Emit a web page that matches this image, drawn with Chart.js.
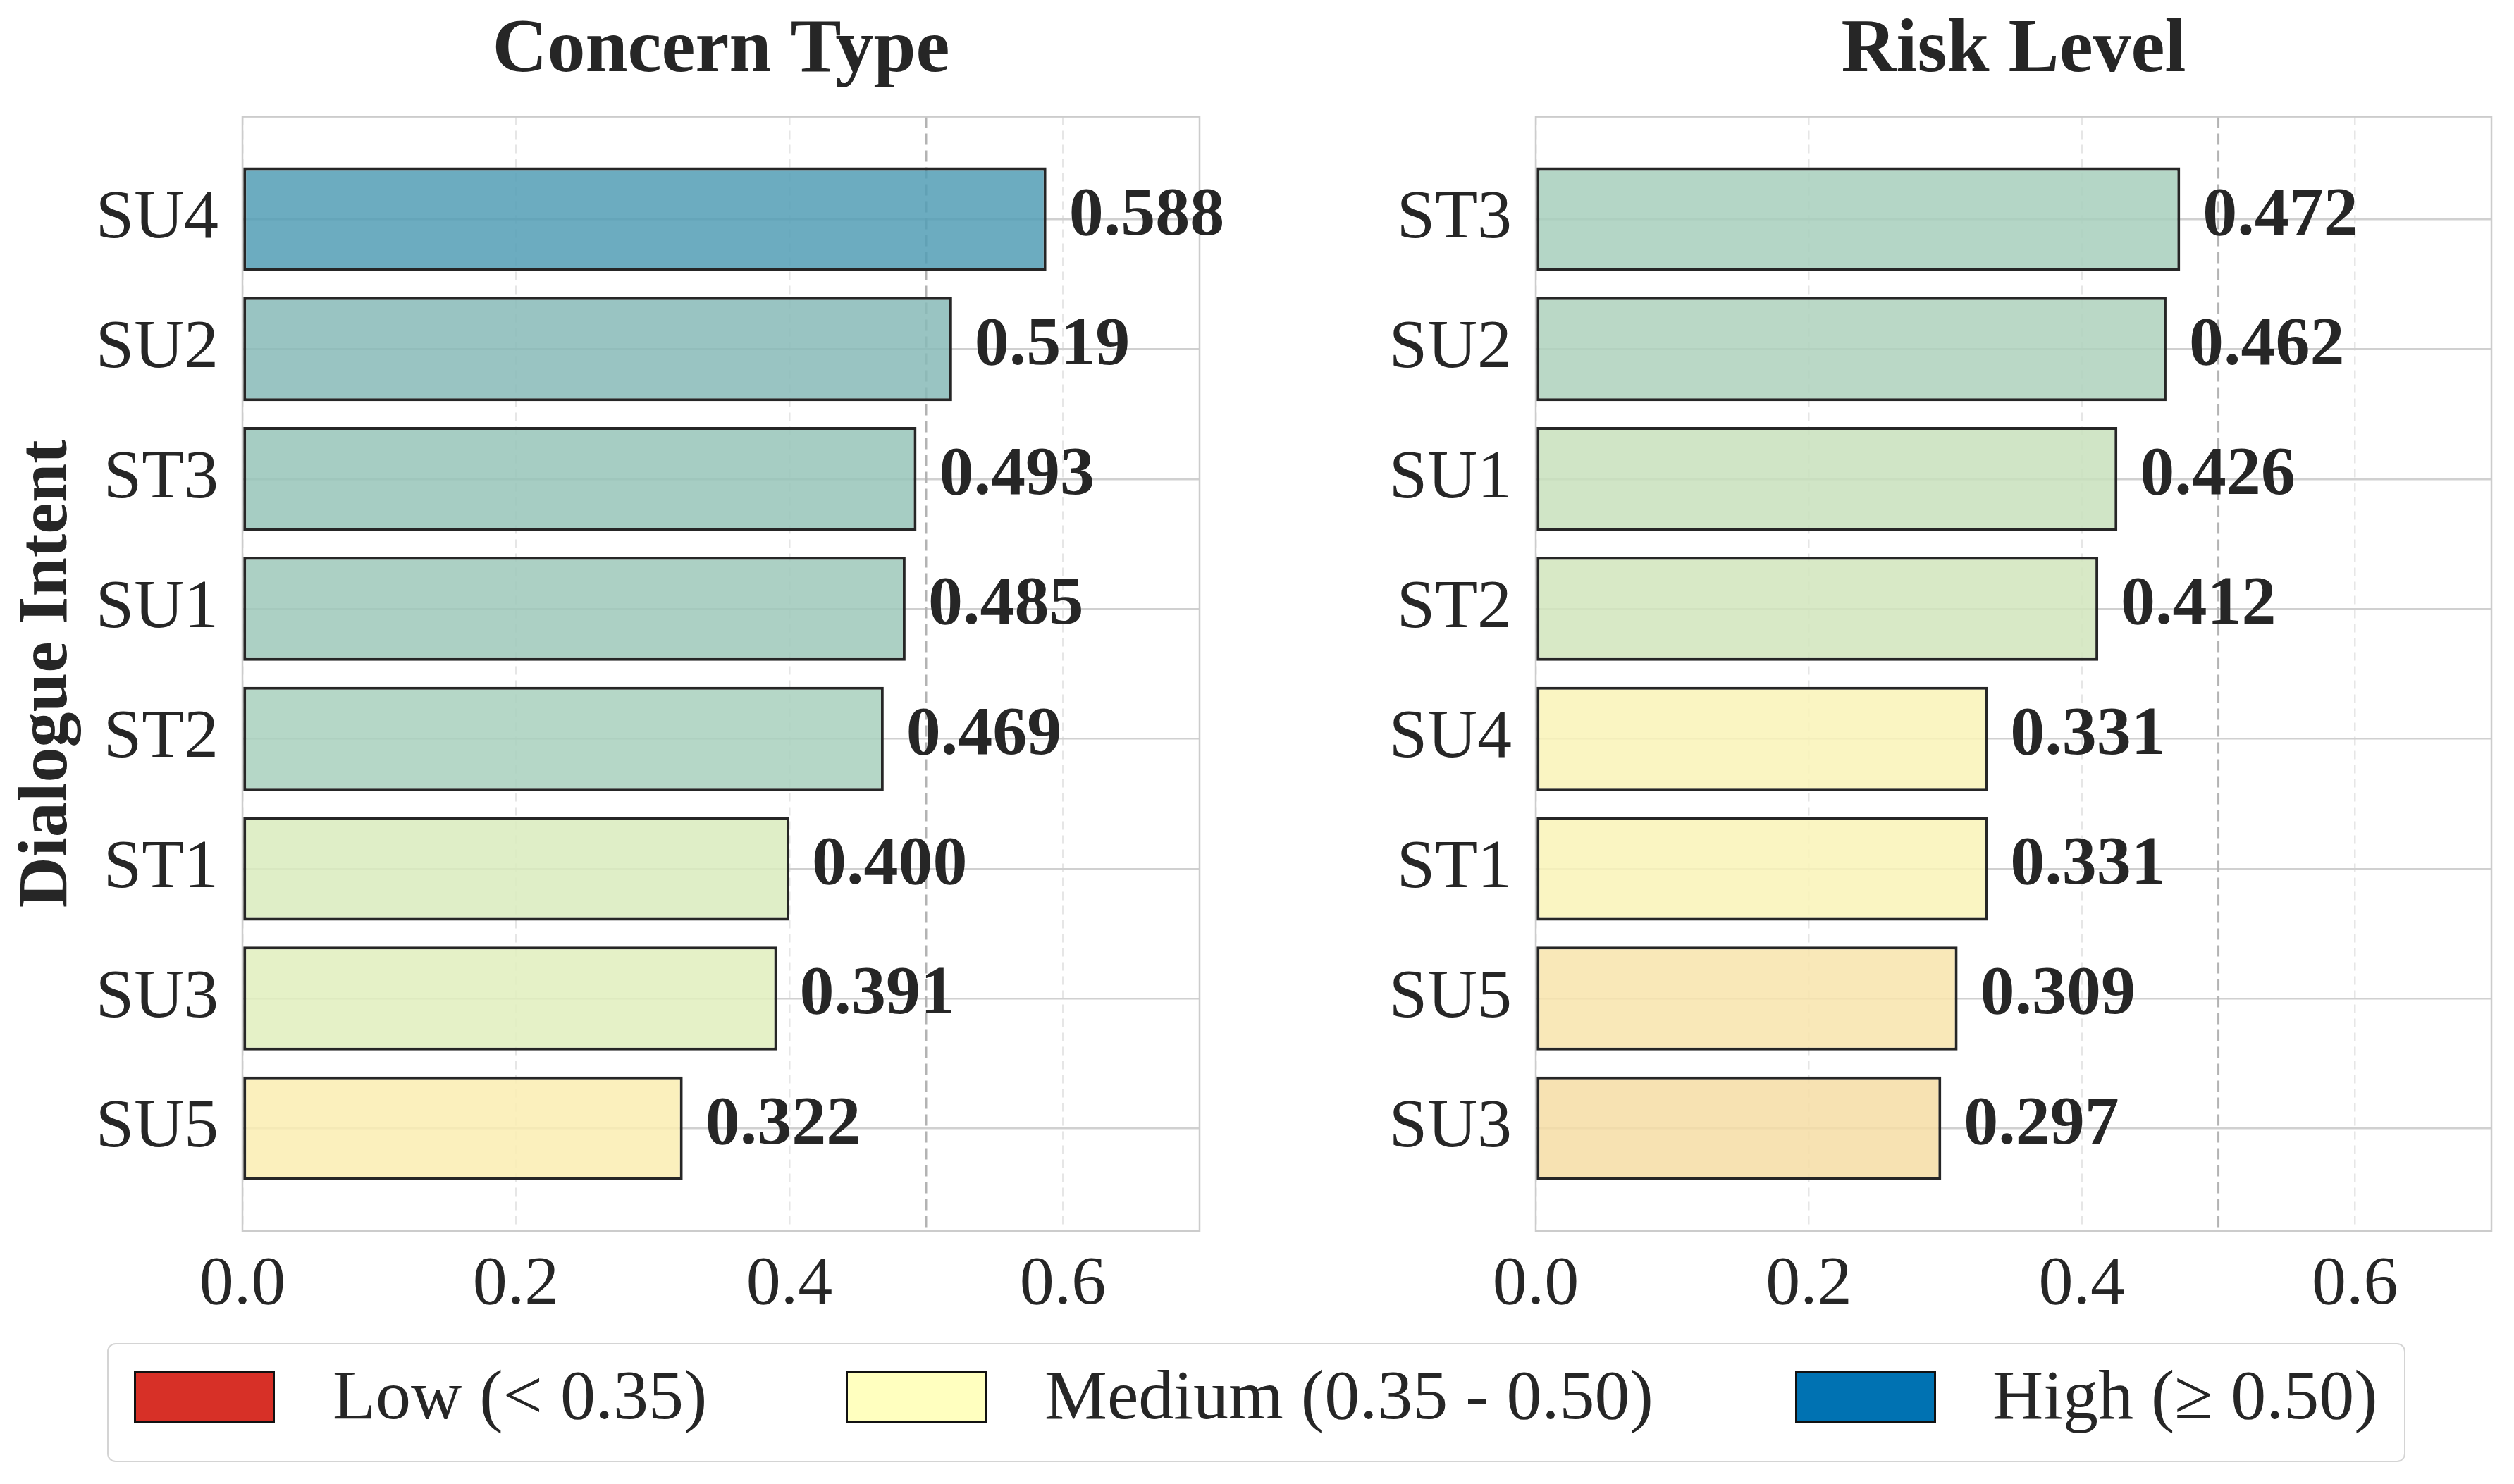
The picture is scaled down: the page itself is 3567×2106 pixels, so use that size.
<!DOCTYPE html>
<html>
<head>
<meta charset="utf-8">
<script src="https://cdn.jsdelivr.net/npm/chart.js@4.4.0/dist/chart.umd.min.js"></script>
<style>
  body { margin: 0; background: #fff; }
  #wrap { position: relative; width: 3567px; height: 2106px; }
  canvas { position: absolute; top: 0; }
  #left { left: 0; }
  #right { left: 1783px; }
  .legend { position: absolute; left: 152px; top: 1906px; width: 3257px; height: 165px;
            border: 2.5px solid #d4d4d4; border-radius: 12px;
            font-family: "Liberation Serif", serif; font-size: 100px; color: #262626; }
  .sw { position: absolute; top: 37px; width: 194px; height: 69px; border: 3px solid #111; }
  .lbl { position: absolute; top: 12px; line-height: 120px; white-space: nowrap; }
</style>
</head>
<body>
<div id="wrap">
  <canvas id="left" width="1783" height="1900"></canvas>
  <canvas id="right" width="1784" height="1900"></canvas>
  <div class="legend" id="legend"></div>
</div>
<script>
// data
const concernLabels = ['SU4', 'SU2', 'ST3', 'SU1', 'ST2', 'ST1', 'SU3', 'SU5'];
const concernValues = [0.588, 0.519, 0.493, 0.485, 0.469, 0.400, 0.391, 0.322];
const riskLabels = ['ST3', 'SU2', 'SU1', 'ST2', 'SU4', 'ST1', 'SU5', 'SU3'];
const riskValues = [0.472, 0.462, 0.426, 0.412, 0.331, 0.331, 0.309, 0.297];
const xTicks = [0.0, 0.2, 0.4, 0.6];
const legendLabels = ['Low (< 0.35)', 'Medium (0.35 - 0.50)', 'High (≥ 0.50)'];
const threshold = 0.5;

// styles
const concernColors = ['rgba(82,157,181,0.85)', 'rgba(135,186,183,0.85)', 'rgba(151,196,184,0.85)',
  'rgba(157,200,186,0.85)', 'rgba(168,208,189,0.85)', 'rgba(217,235,189,0.85)',
  'rgba(224,239,189,0.85)', 'rgba(250,237,177,0.85)'];
const riskColors = ['rgba(167,207,188,0.85)', 'rgba(174,209,188,0.85)', 'rgba(200,224,188,0.85)',
  'rgba(209,229,188,0.85)', 'rgba(249,243,183,0.85)', 'rgba(249,243,183,0.85)',
  'rgba(248,228,171,0.85)', 'rgba(246,221,164,0.85)'];
const legendColors = ['#d73027', '#ffffbf', '#0072b2'];
const legendX = [[36, 318], [1046, 1328], [2393, 2673]];

const FONT = '"Liberation Serif", "Times New Roman", serif';
const INK = '#262626';

const framePlugin = {
  id: 'frame',
  beforeDatasetsDraw(chart) {
    const { ctx, chartArea: a, scales } = chart;
    ctx.save();
    // 0.5 threshold
    const x = scales.x.getPixelForValue(threshold);
    ctx.strokeStyle = '#b3b3b3';
    ctx.lineWidth = 3;
    ctx.setLineDash([16, 8]);
    ctx.beginPath();
    ctx.moveTo(x, a.top);
    ctx.lineTo(x, a.bottom);
    ctx.stroke();
    ctx.setLineDash([]);
    ctx.strokeStyle = '#cccccc';
    ctx.lineWidth = 2.5;
    ctx.strokeRect(a.left, a.top, a.right - a.left, a.bottom - a.top);
    ctx.restore();
  }
};

const valuePlugin = {
  id: 'values',
  afterDatasetsDraw(chart) {
    const { ctx } = chart;
    const meta = chart.getDatasetMeta(0);
    ctx.save();
    ctx.font = 'bold 98px ' + FONT;
    ctx.fillStyle = INK;
    ctx.textBaseline = 'middle';
    ctx.textAlign = 'left';
    meta.data.forEach((bar, i) => {
      const v = chart.data.datasets[0].data[i].x;
      ctx.fillText(v.toFixed(3), bar.x + 32, bar.y - 4);
    });
    ctx.restore();
  }
};

function makeChart(id, title, labels, values, colors, yWidth, padRight, yTitle) {
  return new Chart(document.getElementById(id), {
    type: 'bar',
    data: {
      datasets: [{
        data: values.map((v, i) => ({ x: v, y: i })),
        backgroundColor: colors,
        borderColor: INK,
        borderWidth: 4,
        borderSkipped: false,
        categoryPercentage: 1,
        barPercentage: 0.8
      }]
    },
    options: {
      indexAxis: 'y',
      responsive: false,
      animation: false,
      devicePixelRatio: 1,
      layout: { padding: { left: 0, right: padRight, top: 0, bottom: 0 } },
      scales: {
        x: {
          type: 'linear',
          min: 0,
          max: 0.7,
          afterBuildTicks: s => { s.ticks = xTicks.map(v => ({ value: v })); },
          afterFit: s => { s.height = 1900 - 1747; },
          ticks: {
            font: { family: FONT, size: 98 },
            color: INK,
            padding: 18,
            maxRotation: 0,
            callback: v => v.toFixed(1)
          },
          grid: { color: '#e6e6e6', lineWidth: 2.5, drawTicks: false },
          border: { display: false, dash: [12, 8] }
        },
        y: {
          type: 'linear',
          min: -0.79,
          max: 7.79,
          reverse: true,
          offset: false,
          afterBuildTicks: s => { s.ticks = labels.map((l, i) => ({ value: i })); },
          afterFit: s => { s.width = yWidth; },
          ticks: {
            font: { family: FONT, size: 98 },
            color: INK,
            padding: 34,
            callback: v => labels[v]
          },
          grid: { color: '#d0d0d0', lineWidth: 2.5, drawTicks: false, offset: false },
          border: { display: false },
          title: {
            display: !!yTitle,
            text: yTitle || '',
            font: { family: FONT, size: 100, weight: 'bold' },
            color: INK,
            padding: { top: 8, bottom: 0 }
          }
        }
      },
      plugins: {
        legend: { display: false },
        tooltip: { enabled: false },
        title: {
          display: true,
          text: title,
          fullSize: false,
          font: { family: FONT, size: 108, weight: 'bold' },
          color: INK,
          padding: { top: 8, bottom: 28 }
        }
      }
    },
    plugins: [framePlugin, valuePlugin]
  });
}

makeChart('left', 'Concern Type', concernLabels, concernValues, concernColors, 344, 81, 'Dialogue Intent');
makeChart('right', 'Risk Level', riskLabels, riskValues, riskColors, 396, 32, null);

// shared legend
const legend = document.getElementById('legend');
legendLabels.forEach((text, i) => {
  const sw = document.createElement('div');
  sw.className = 'sw';
  sw.style.left = legendX[i][0] + 'px';
  sw.style.background = legendColors[i];
  legend.appendChild(sw);
  const lb = document.createElement('div');
  lb.className = 'lbl';
  lb.style.left = legendX[i][1] + 'px';
  lb.textContent = text;
  legend.appendChild(lb);
});
</script>
</body>
</html>
